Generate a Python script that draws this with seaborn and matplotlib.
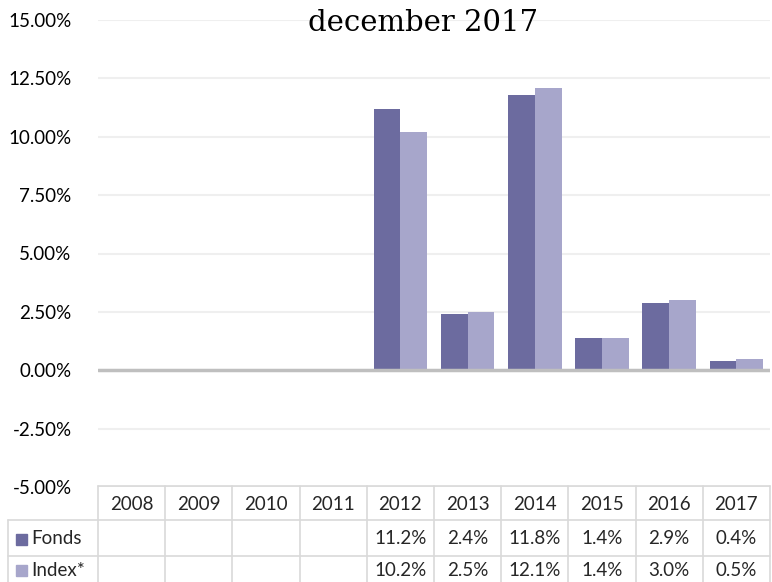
import numpy as np
import pandas as pd
import seaborn as sns
import matplotlib
matplotlib.use("Agg")
import matplotlib.pyplot as plt
from matplotlib.patches import Rectangle

years = ["2008", "2009", "2010", "2011", "2012", "2013", "2014", "2015", "2016", "2017"]
fonds = [np.nan, np.nan, np.nan, np.nan, 11.2, 2.4, 11.8, 1.4, 2.9, 0.4]
index = [np.nan, np.nan, np.nan, np.nan, 10.2, 2.5, 12.1, 1.4, 3.0, 0.5]
series_names = ["Fonds", "Index*"]
colors = ["#6C6B9F", "#A7A6CB"]
yticks = [-5.0, -2.5, 0.0, 2.5, 5.0, 7.5, 10.0, 12.5, 15.0]
title_text = "december 2017"

df = pd.DataFrame({
    "year": years * 2,
    "series": [series_names[0]] * len(years) + [series_names[1]] * len(years),
    "value": fonds + index,
})

sns.set_style("white")
plt.rcParams["font.family"] = ["Lato", "DejaVu Sans"]

W, H = 772, 582
fig = plt.figure(figsize=(W / 100, H / 100), dpi=100)
L, R, T, B = 98, 770, 20, 487
ax = fig.add_axes([L / W, 1 - B / H, (R - L) / W, (B - T) / H])

sns.barplot(data=df, x="year", y="value", hue="series", order=years,
            hue_order=series_names, palette=colors, width=0.8, gap=0,
            edgecolor="none", linewidth=0, saturation=1, legend=False, ax=ax)

ax.set_ylim(-5, 15)
ax.set_xlim(-0.5, len(years) - 0.5)
ax.set_yticks(yticks)
ax.set_yticklabels([f"{v:.2f}%" for v in yticks], fontsize=13.5, color="#000000")
ax.set_xticks([])
ax.set_xlabel("")
ax.set_ylabel("")
ax.tick_params(axis="y", length=0, pad=19)
for s in ax.spines.values():
    s.set_visible(False)
ax.yaxis.grid(True, color="#EFEFEF", linewidth=1.5)
ax.set_axisbelow(True)
ax.axhline(0, color="#BFBFBF", linewidth=2.5, zorder=3)

# title (first line cut off above the figure)
fig.text(423 / W, 1 - 31 / H, title_text, ha="center", va="baseline",
         fontsize=21, family=["DejaVu Serif"], color="#000000")

# data table under the chart
tax = fig.add_axes([0, 0, 1, 1])
tax.set_xlim(0, W)
tax.set_ylim(H, 0)
tax.axis("off")
lc = "#D9D9D9"
cw = (R - L) / len(years)
rows_y = [486, 520, 556, 591]
tax.plot([L, R], [rows_y[0], rows_y[0]], color=lc, lw=1.2)
for i in range(len(years) + 1):
    x = L + i * cw
    tax.plot([x, x], [rows_y[0], rows_y[3]], color=lc, lw=1.2)
for y in rows_y[1:]:
    tax.plot([8, R], [y, y], color=lc, lw=1.2)
tax.plot([8, 8], [rows_y[1], rows_y[3]], color=lc, lw=1.2)

fs = 13.5
for i, yr in enumerate(years):
    tax.text(L + (i + 0.5) * cw, (rows_y[0] + rows_y[1]) / 2 + 1, yr,
             ha="center", va="center", fontsize=fs)

for r, (name, vals, col) in enumerate(zip(series_names, [fonds, index], colors)):
    yc = (rows_y[1] + rows_y[2]) / 2 + 1 if r == 0 else (rows_y[2] + 582) / 2 + 1
    tax.add_patch(Rectangle((16, yc - 5.5), 11, 11, color=col))
    tax.text(31, yc, name, ha="left", va="center", fontsize=fs)
    for i, v in enumerate(vals):
        if not np.isnan(v):
            tax.text(L + (i + 0.5) * cw, yc, f"{v:.1f}%", ha="center",
                     va="center", fontsize=fs)

fig.savefig("out.png", dpi=100)
